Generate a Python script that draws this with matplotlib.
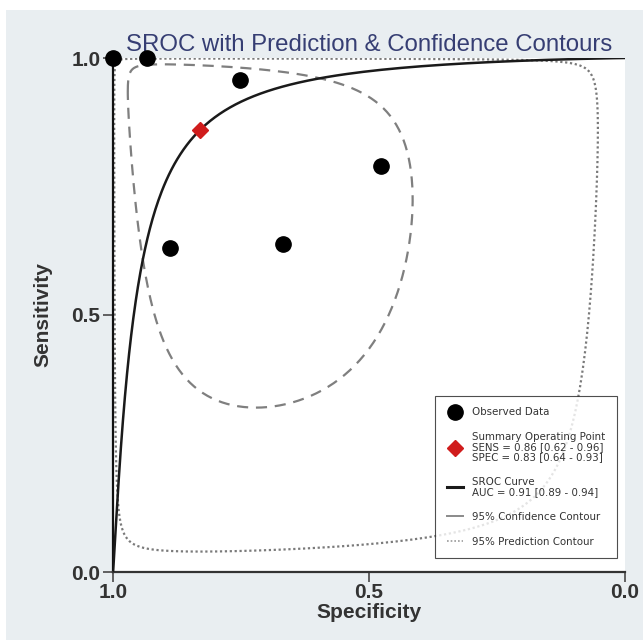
import numpy as np
import matplotlib
matplotlib.use("Agg")
import matplotlib.pyplot as plt
from matplotlib.lines import Line2D
from matplotlib.patches import Rectangle

plt.rcParams['font.family'] = ['Liberation Sans', 'DejaVu Sans']

# observed studies (specificity, sensitivity)
study_spec = [1.0, 0.934, 0.752, 0.889, 0.668, 0.477]
study_sens = [1.0, 1.0, 0.957, 0.630, 0.638, 0.790]

# summary operating point
summ_spec = 0.83
summ_sens = 0.86

# SROC slope in logit space
sroc_slope = 1.15

# contour spreads in logit space: (sd logit spec, sd logit sens, correlation)
conf_spread = [1.93, 2.57, 0.33]
pred_spread = [4.47, 5.0, 0.0]

legend_labels = [
    "Observed Data",
    "Summary Operating Point\nSENS = 0.86 [0.62 - 0.96]\nSPEC = 0.83 [0.64 - 0.93]",
    "SROC Curve\nAUC = 0.91 [0.89 - 0.94]",
    "95% Confidence Contour",
    "95% Prediction Contour",
]


def logit(p):
    return np.log(p / (1 - p))


def expit(x):
    return 1 / (1 + np.exp(-x))


def contour(spread, n=400):
    sx, sy, r = spread
    t = np.linspace(0, 2 * np.pi, n)
    lx = logit(summ_spec) + sx * np.cos(t)
    ly = logit(summ_sens) + sy * (r * np.cos(t) + np.sqrt(1 - r ** 2) * np.sin(t))
    return expit(lx), expit(ly)


fig = plt.figure(figsize=(6.43, 6.43), dpi=100, facecolor='white')
fig.patches.append(Rectangle((6 / 643, 3 / 643), 1, 630 / 643, transform=fig.transFigure,
                             facecolor='#e9eef1', edgecolor='none', zorder=-10))
ax = fig.add_axes([113 / 643, 71 / 643, 512 / 643, 514 / 643])
ax.set_facecolor('white')

# prediction and confidence regions
px, py = contour(pred_spread)
ax.plot(px, py, color='#7a7a7a', lw=1.6, linestyle=(0, (1, 1.2)), zorder=2)
cx, cy = contour(conf_spread)
ax.plot(cx, cy, color='#7f7f7f', lw=1.6, linestyle=(0, (5, 3.5)), zorder=2)

# SROC curve
fpr = np.logspace(-6, np.log10(0.999999), 600)
sroc = expit(logit(summ_sens) + sroc_slope * (logit(fpr) - logit(1 - summ_spec)))
ax.plot(1 - fpr, sroc, color='#1a1a1a', lw=1.8, zorder=3)

ax.plot(study_spec, study_sens, 'o', color='black', ms=11, clip_on=False, zorder=5)
ax.plot([summ_spec], [summ_sens], 'D', color='#d01c1c', ms=8, zorder=6)

ax.set_xlim(1, 0)
ax.set_ylim(0, 1)
ax.set_xticks([1.0, 0.5, 0.0])
ax.set_xticklabels(['1.0', '0.5', '0.0'], fontweight='bold')
ax.set_yticks([0.0, 0.5, 1.0])
ax.set_yticklabels(['0.0', '0.5', '1.0'], fontweight='bold')
ax.tick_params(length=7, width=1.3, color='#555555', labelsize=15, labelcolor='#333333', pad=2)
ax.tick_params(axis='x', pad=1)
for side in ['top', 'right']:
    ax.spines[side].set_visible(False)
for side in ['left', 'bottom']:
    ax.spines[side].set_linewidth(1.6)
    ax.spines[side].set_color('#333333')
ax.spines['left'].set_color('#111111')

ax.set_xlabel('Specificity', fontsize=15, fontweight='bold', color='#333333', labelpad=1)
ax.set_ylabel('Sensitivity', fontsize=15, fontweight='bold', color='#333333', labelpad=14)
ax.set_title('SROC with Prediction & Confidence Contours', fontsize=17.3, color='#363e73', pad=5)

handles = [
    Line2D([], [], marker='o', color='black', ls='none', ms=11),
    Line2D([], [], marker='D', color='#d01c1c', ls='none', ms=8),
    Line2D([], [], color='#1a1a1a', lw=2.2),
    Line2D([], [], color='#8a8a8a', lw=1.4),
    Line2D([], [], color='#999999', lw=1.2, linestyle=(0, (1, 1.2))),
]
leg = ax.legend(handles, legend_labels, loc='lower right', bbox_to_anchor=(0.984, 0.027),
                prop={'family': 'DejaVu Sans', 'size': 7.4}, frameon=True, fancybox=False,
                edgecolor='#222222', handlelength=1.6, handletextpad=0.9,
                labelspacing=1.45, borderpad=1.1, borderaxespad=0)
leg.get_frame().set_linewidth(0.8)
for txt in leg.get_texts():
    txt.set_color('#333333')
    txt.set_linespacing(1.0)

fig.savefig('out.png', dpi=100, facecolor=fig.get_facecolor())
